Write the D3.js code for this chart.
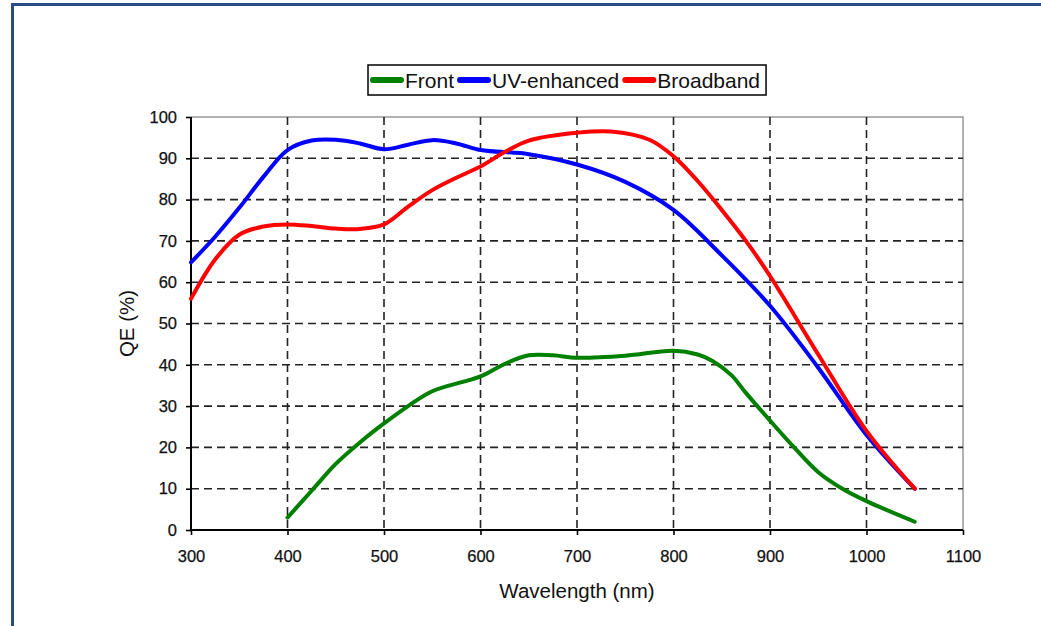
<!DOCTYPE html>
<html><head><meta charset="utf-8">
<script src="https://cdn.jsdelivr.net/npm/d3@7"></script>
<style>
html,body{margin:0;padding:0;background:#fff;}
svg{display:block;font-family:"Liberation Sans",Arial,sans-serif;}
</style></head>
<body>
<svg id="chart" width="1041" height="626"></svg>
<script>
// ---- data ----
const seriesNames = ["Front", "UV-enhanced", "Broadband"];
const seriesColors = ["#008000", "#0000ff", "#ff0000"];
const frontWl = [400,425,450,475,500,525,550,600,625,650,675,700,750,800,825,840,860,875,900,925,950,975,1000,1050];
const frontQE = [3,9.5,16,21.2,25.8,30,33.6,37.2,40.2,42.3,42.3,41.7,42.2,43.4,42.5,41,37.5,33.2,26.5,20,14,10,7,2];
const uvWl = [300,325,350,375,400,425,450,475,500,525,550,575,600,650,700,750,800,850,900,950,1000,1050];
const uvQE = [64.8,71,78,85.5,92,94.3,94.5,93.6,92.2,93.3,94.4,93.6,92,91,88.5,84.3,77.5,66.5,54.3,39.3,23,10];
const bbWl = [300,325,350,375,400,425,450,475,500,525,550,575,600,625,650,700,735,775,800,825,850,875,900,950,1000,1050];
const bbQE = [56,65.5,71.5,73.5,74,73.6,73,72.9,74,78.3,82.3,85.3,88,91.5,94.3,96.2,96.5,94.5,90.5,84.5,77.5,70,61.5,42.5,24,10];
const xTicks = [300,400,500,600,700,800,900,1000,1100];
const yTicks = [0,10,20,30,40,50,60,70,80,90,100];
const xTitle = "Wavelength (nm)";
const yTitle = "QE (%)";

const series = [
  {name: seriesNames[0], color: seriesColors[0], wl: frontWl, qe: frontQE},
  {name: seriesNames[1], color: seriesColors[1], wl: uvWl, qe: uvQE},
  {name: seriesNames[2], color: seriesColors[2], wl: bbWl, qe: bbQE}
];

const svg = d3.select("#chart");
const W = 1041, H = 626;
const pLeft = 191, pRight = 963, pTop = 117, pBottom = 530;

// outer frame
svg.append("rect").attr("x", 12.5).attr("y", 4.5).attr("width", W + 20).attr("height", H + 20)
  .attr("fill", "none").attr("stroke", "#264d85").attr("stroke-width", 3);

const x = d3.scaleLinear().domain([300, 1100]).range([pLeft, pRight]);
const y = d3.scaleLinear().domain([0, 100]).range([pBottom, pTop]);

// plot frame (top/right gray)
svg.append("path").attr("d", `M${pLeft},${pTop}H${pRight}V${pBottom}`)
  .attr("fill", "none").attr("stroke", "#999").attr("stroke-width", 1.5);

// grid
const grid = svg.append("g").attr("stroke", "#222").attr("stroke-width", 1.6).attr("stroke-dasharray", "8,5");
grid.selectAll("line.h").data(yTicks.filter(v => v > 0 && v < 100)).join("line").attr("class", "h")
  .attr("x1", pLeft).attr("x2", pRight).attr("y1", d => y(d)).attr("y2", d => y(d));
grid.selectAll("line.v").data(xTicks.filter(v => v > 300 && v < 1100)).join("line").attr("class", "v")
  .attr("y1", pTop).attr("y2", pBottom).attr("x1", d => x(d)).attr("x2", d => x(d));

// axes
const xAxis = svg.append("g").attr("transform", `translate(0,${pBottom})`)
  .call(d3.axisBottom(x).tickValues(xTicks).tickSize(5).tickPadding(15).tickFormat(d3.format("d")));
const yAxis = svg.append("g").attr("transform", `translate(${pLeft},0)`)
  .call(d3.axisLeft(y).tickValues(yTicks).tickSize(5).tickPadding(9).tickFormat(d3.format("d")));
[xAxis, yAxis].forEach(a => {
  a.select(".domain").attr("stroke", "#000").attr("stroke-width", 2);
  a.selectAll(".tick line").attr("stroke", "#000").attr("stroke-width", 1.6);
  a.selectAll(".tick text").attr("font-size", 16.5).attr("fill", "#111")
    .attr("stroke", "#111").attr("stroke-width", 0.25)
    .attr("font-family", "'Liberation Sans',Arial,sans-serif");
});
xAxis.select(".domain").attr("d", `M${pLeft},0H${pRight}`);
yAxis.select(".domain").attr("d", `M0,${pBottom}V${pTop}`);

// lines
const line = d3.line().x(d => x(d[0])).y(d => y(d[1])).curve(d3.curveCatmullRom.alpha(0.5));
series.forEach(s => {
  svg.append("path").datum(s.wl.map((w, i) => [w, s.qe[i]]))
    .attr("d", line).attr("fill", "none").attr("stroke", s.color)
    .attr("stroke-width", 4).attr("stroke-linejoin", "round").attr("stroke-linecap", "round");
});

// titles
svg.append("text").attr("x", (pLeft + pRight) / 2).attr("y", 598)
  .attr("text-anchor", "middle").attr("font-size", 20.5).attr("fill", "#111").text(xTitle);
svg.append("text").attr("transform", `translate(134,${(pTop + pBottom) / 2}) rotate(-90)`)
  .attr("text-anchor", "middle").attr("font-size", 20.5).attr("fill", "#111").text(yTitle);

// legend
const lg = svg.append("g");
const lgBox = lg.append("rect").attr("y", 65).attr("height", 30).attr("fill", "#fff")
  .attr("stroke", "#000").attr("stroke-width", 1.5);
let cx = 373;
series.forEach((s, i) => {
  lg.append("line").attr("x1", cx).attr("x2", cx + 28).attr("y1", 80).attr("y2", 80)
    .attr("stroke", s.color).attr("stroke-width", 6).attr("stroke-linecap", "round");
  const t = lg.append("text").attr("x", cx + 32).attr("y", 88).attr("font-size", 21)
    .attr("fill", "#111").text(s.name);
  cx = cx + 32 + t.node().getComputedTextLength() + 6;
});
lgBox.attr("x", 368).attr("width", cx - 368);
</script>
</body></html>
